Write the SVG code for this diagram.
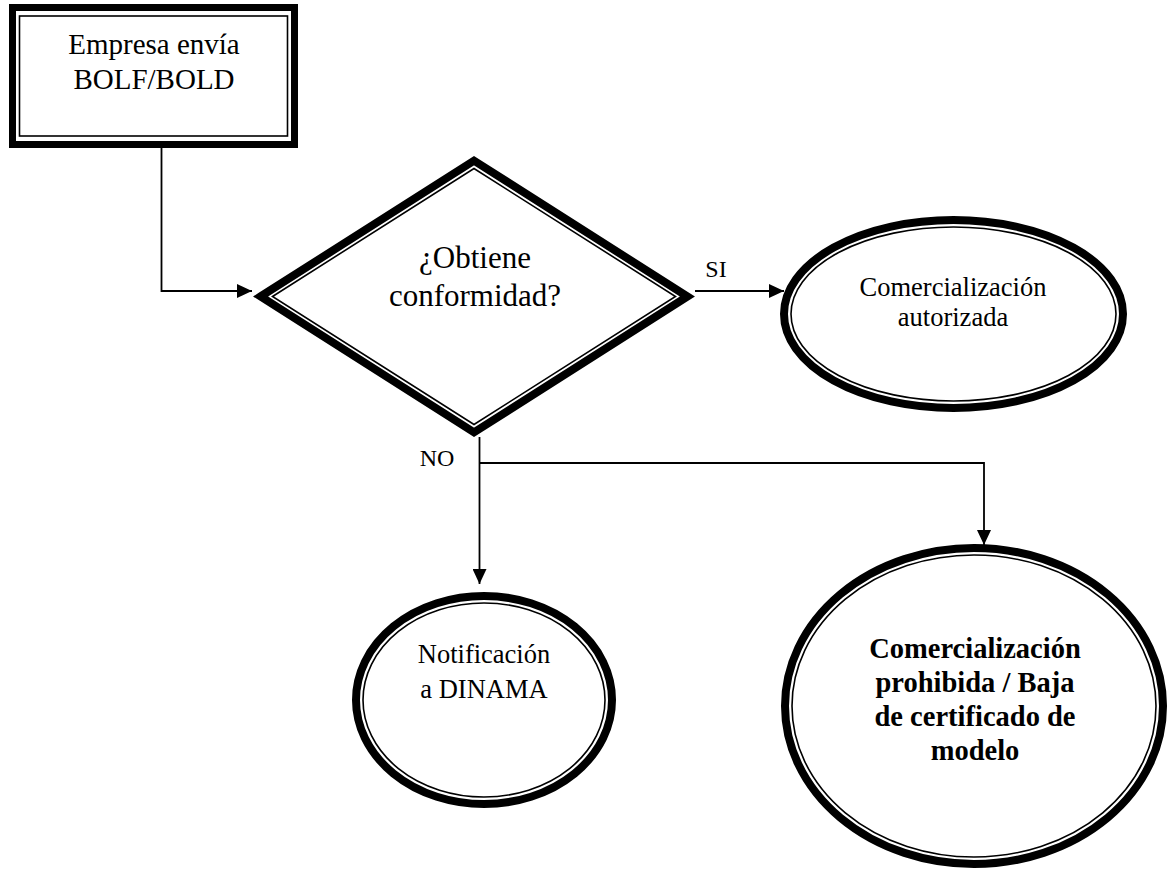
<svg xmlns="http://www.w3.org/2000/svg" width="1170" height="869" viewBox="0 0 1170 869">
  <style>
    .thick { fill: none; stroke: #000; stroke-width: 8; stroke-linejoin: miter; stroke-miterlimit: 10; }
    .thin { fill: none; stroke: #000; stroke-width: 1.6; }
    .conn { fill: none; stroke: #000; stroke-width: 1.8; }
    .t { font-family: "Liberation Serif", "Times New Roman", serif; fill: #000; text-anchor: middle; }
  </style>
  <defs>
    <marker id="arrow" markerUnits="userSpaceOnUse" markerWidth="15" markerHeight="14" refX="15" refY="7" orient="auto">
      <path d="M0,0 L15,7 L0,14 z" fill="#000"/>
    </marker>
  </defs>
  <rect width="1170" height="869" fill="#fff"/>

  <g id="connectors">
    <path class="conn" d="M161.5,148 V291 H252" marker-end="url(#arrow)"/>
    <path class="conn" d="M695,291 H784" marker-end="url(#arrow)"/>
    <path class="conn" d="M479.5,437 V584" marker-end="url(#arrow)"/>
    <path class="conn" d="M479.5,463 H984 V545" marker-end="url(#arrow)"/>
    <text class="t" x="716" y="277" font-size="24">SI</text>
    <text class="t" x="437" y="466" font-size="24">NO</text>
  </g>

  <g id="node-empresa">
    <rect x="12.5" y="7.5" width="282" height="137" fill="#fff" stroke="#000" stroke-width="7"/>
    <rect class="thin" x="19.5" y="16" width="268" height="120" stroke-width="2"/>
    <text class="t" x="154" y="54" font-size="29">Empresa envía</text>
    <text class="t" x="154" y="89" font-size="29">BOLF/BOLD</text>
  </g>

  <g id="node-decision">
    <polygon class="thick" points="260.5,296.5 474,160.7 687.5,296.5 474,432.3" fill="#fff"/>
    <polygon class="thin" points="272.5,296.5 474,168.5 675.5,296.5 474,424.5"/>
    <text class="t" x="475" y="268" font-size="31">¿Obtiene</text>
    <text class="t" x="475" y="306" font-size="31">conformidad?</text>
  </g>

  <g id="node-autorizada">
    <ellipse class="thick" cx="953.5" cy="314" rx="169.5" ry="94" fill="#fff"/>
    <ellipse class="thin" cx="953.5" cy="314" rx="162.5" ry="87"/>
    <text class="t" x="953" y="296" font-size="26.5">Comercialización</text>
    <text class="t" x="953" y="326" font-size="26.5">autorizada</text>
  </g>

  <g id="node-dinama">
    <ellipse class="thick" cx="484" cy="700" rx="128" ry="104" fill="#fff"/>
    <ellipse class="thin" cx="484" cy="700" rx="121" ry="97"/>
    <text class="t" x="484" y="663" font-size="26.5">Notificación</text>
    <text class="t" x="484" y="698" font-size="26.5">a DINAMA</text>
  </g>

  <g id="node-prohibida">
    <ellipse class="thick" cx="974" cy="706" rx="189" ry="158" fill="#fff"/>
    <ellipse class="thin" cx="974" cy="706" rx="182" ry="151"/>
    <text class="t" x="975" y="658" font-size="28.5" font-weight="bold">Comercialización</text>
    <text class="t" x="975" y="692" font-size="28.5" font-weight="bold">prohibida / Baja</text>
    <text class="t" x="975" y="726" font-size="28.5" font-weight="bold">de certificado de</text>
    <text class="t" x="975" y="760" font-size="28.5" font-weight="bold">modelo</text>
  </g>
</svg>
